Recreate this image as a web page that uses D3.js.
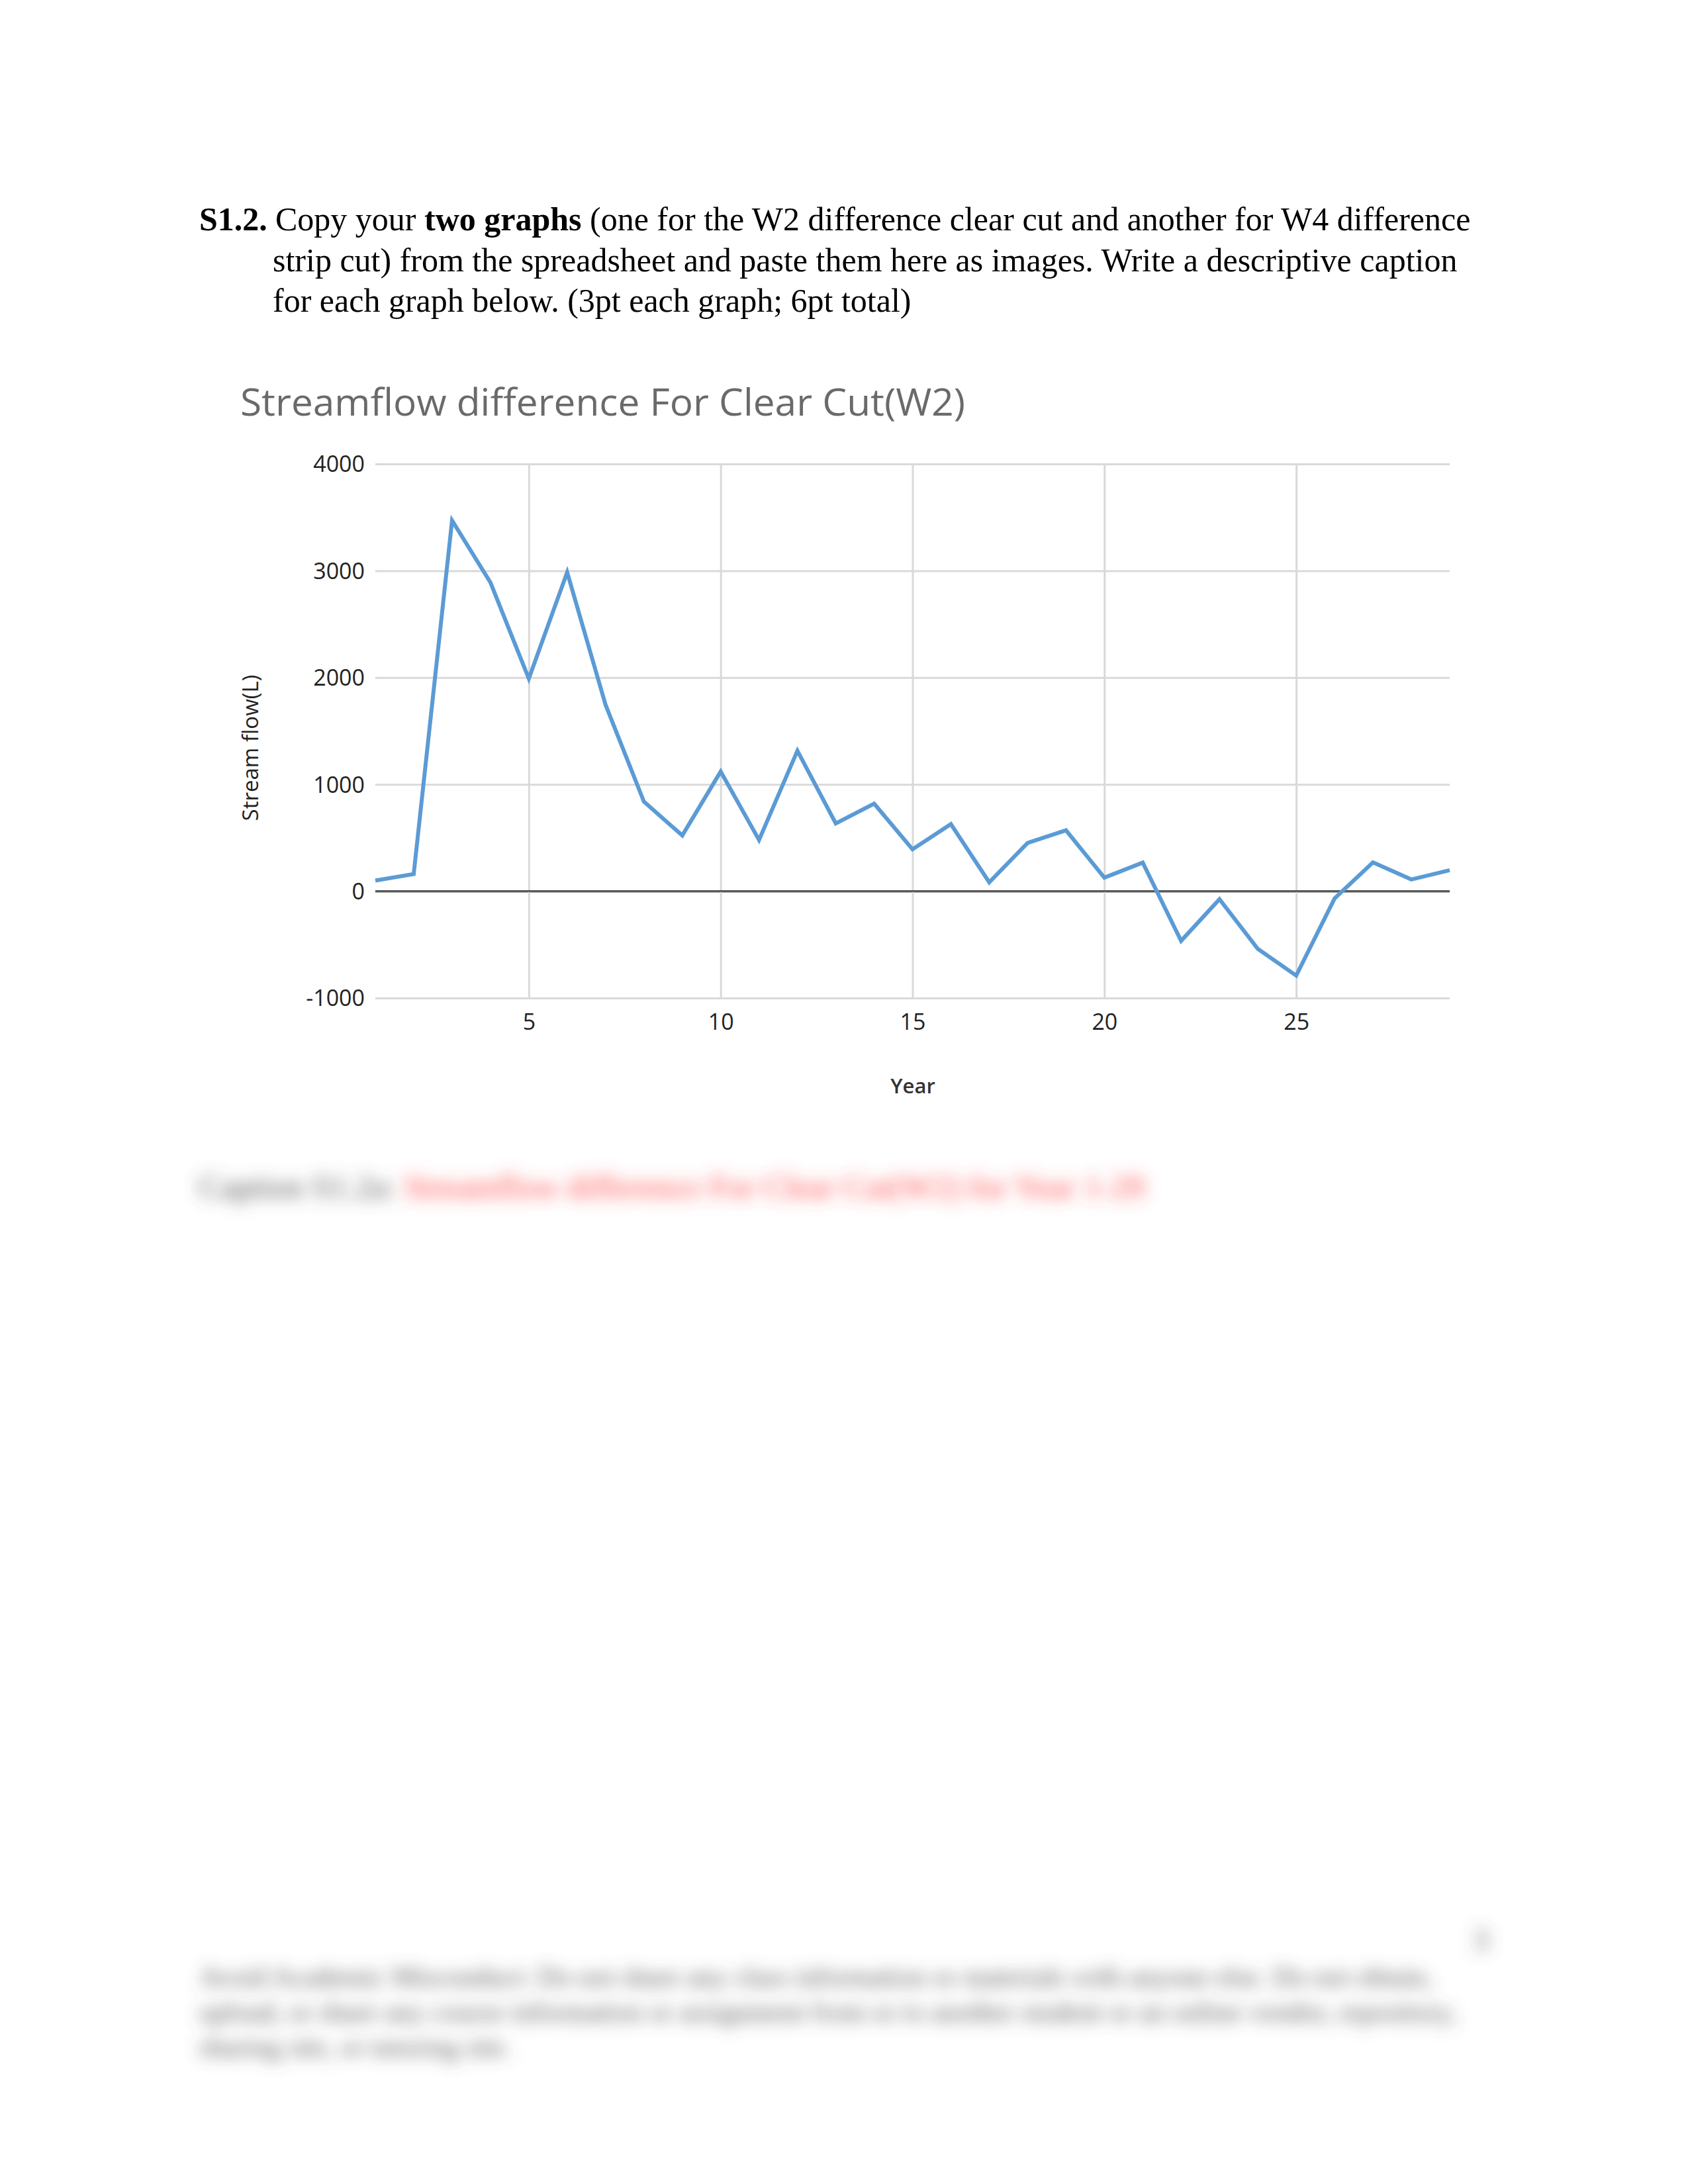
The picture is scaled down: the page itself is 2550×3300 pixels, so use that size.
<!DOCTYPE html>
<html lang="en">
  <head>
    <meta charset="utf-8">
    <title>Streamflow difference</title>
    <script src="https://d3js.org/d3.v7.min.js"></script>
    <style>
      body { margin: 0; background: #fff; }
      svg { display: block; }
    </style>
  </head>
  <body>
    <div id="page"></div>
    <script>

      // chart data: year number and streamflow difference (L)
      const years = d3.range(1, 30);
      const flowDiff = [100, 160, 3470, 2890, 1990, 2985, 1745, 838, 522, 1120,
                        480, 1315, 635, 820, 392, 628, 83, 452, 570, 127,
                        268, -465, -75, -540, -790, -68, 270, 110, 197];
      const yTicks = [-1000, 0, 1000, 2000, 3000, 4000];
      const xTicks = [5, 10, 15, 20, 25];

      const chartTitle = "Streamflow difference For Clear Cut(W2)";
      const yLabel = "Stream flow(L)";
      const xLabel = "Year";

      const data = years.map((yr, i) => ({year: yr, value: flowDiff[i]}));

      // page size (letter at 300dpi)
      const W = 2550, H = 3300;
      // plot box inside the page
      const plot = {left: 567, right: 2190, top: 701, bottom: 1508};

      const svg = d3.select("#page")
        .append("svg")
          .attr("width", W)
          .attr("height", H);

      svg.append("rect").attr("width", W).attr("height", H).attr("fill", "#fff");

      const defs = svg.append("defs");
      defs.append("filter").attr("id", "blur")
          .attr("x", "-10%").attr("y", "-60%").attr("width", "120%").attr("height", "220%")
        .append("feGaussianBlur").attr("stdDeviation", 12);

      // ---- question text ----
      const serif = "'Liberation Serif', 'Times New Roman', serif";
      const q = svg.append("g").attr("font-family", serif).attr("font-size", 50).attr("fill", "#000");

      q.append("text").attr("x", 301).attr("y", 348)
        .attr("font-weight", "bold").text("S1.2.");

      const l1 = q.append("text").attr("x", 416).attr("y", 348);
      l1.append("tspan").text("Copy your ");
      l1.append("tspan").attr("font-weight", "bold").text("two graphs");
      l1.append("tspan").text(" (one for the W2 difference clear cut and another for W4 difference");

      q.append("text").attr("x", 412).attr("y", 410)
        .text("strip cut) from the spreadsheet and paste them here as images. Write a descriptive caption");
      q.append("text").attr("x", 412).attr("y", 471)
        .text("for each graph below. (3pt each graph; 6pt total)");

      // ---- chart ----
      const sans = "'Open Sans', 'Noto Sans', sans-serif";

      const x = d3.scaleLinear().domain([1, 29]).range([plot.left, plot.right]);
      const y = d3.scaleLinear().domain([-1000, 4000]).range([plot.bottom, plot.top]);

      // title
      svg.append("text")
        .attr("x", 363).attr("y", 628)
        .attr("font-family", sans).attr("font-size", 56)
        .attr("fill", "#6a6a6a")
        .attr("textLength", 1095).attr("lengthAdjust", "spacingAndGlyphs")
        .text(chartTitle);

      // horizontal gridlines + y labels
      const yAxis = d3.axisLeft(y).tickValues(yTicks)
        .tickSize(-(plot.right - plot.left)).tickPadding(16)
        .tickFormat(d => String(d));
      const gy = svg.append("g")
        .attr("transform", `translate(${plot.left},0)`)
        .call(yAxis);
      gy.select(".domain").remove();
      gy.selectAll(".tick line")
        .attr("stroke", d => d === 0 ? "#5a5a5a" : "#d9d9d9")
        .attr("stroke-width", 3);
      gy.selectAll(".tick text")
        .attr("font-family", sans).attr("font-size", 34).attr("fill", "#222")
        .attr("font-weight", 500)
        .attr("dy", "0.35em");

      // vertical gridlines + x labels
      const xAxis = d3.axisBottom(x).tickValues(xTicks)
        .tickSize(-(plot.bottom - plot.top)).tickPadding(24)
        .tickFormat(d => String(d));
      const gx = svg.append("g")
        .attr("transform", `translate(0,${plot.bottom})`)
        .call(xAxis);
      gx.select(".domain").remove();
      gx.selectAll(".tick line").attr("stroke", "#d9d9d9").attr("stroke-width", 3);
      gx.selectAll(".tick text")
        .attr("font-family", sans).attr("font-size", 34).attr("fill", "#222")
        .attr("font-weight", 500);

      // zero line again on top of the vertical grid
      svg.append("line")
        .attr("x1", plot.left).attr("x2", plot.right)
        .attr("y1", y(0)).attr("y2", y(0))
        .attr("stroke", "#5a5a5a").attr("stroke-width", 3);

      // the series
      svg.append("path")
        .datum(data)
        .attr("fill", "none")
        .attr("stroke", "#5b9bd5")
        .attr("stroke-width", 6)
        .attr("stroke-linejoin", "miter")
        .attr("d", d3.line().x(d => x(d.year)).y(d => y(d.value)));

      // axis titles
      svg.append("text")
        .attr("transform", "translate(390,1130) rotate(-90)")
        .attr("text-anchor", "middle")
        .attr("font-family", sans).attr("font-size", 33).attr("fill", "#222")
        .attr("font-weight", 500)
        .text(yLabel);

      svg.append("text")
        .attr("x", 1379).attr("y", 1652)
        .attr("text-anchor", "middle")
        .attr("font-family", sans).attr("font-size", 31).attr("font-weight", 600)
        .attr("fill", "#333")
        .text(xLabel);

      // ---- blurred caption and footer ----
      const cap = svg.append("text")
        .attr("x", 301).attr("y", 1810)
        .attr("font-family", serif).attr("font-size", 50)
        .attr("filter", "url(#blur)");
      cap.append("tspan").attr("fill", "#555").text("Caption S1.2a: ");
      cap.append("tspan").attr("fill", "#ff4545")
        .text("Streamflow difference For Clear Cut(W2) for Year 1-29");

      const foot = svg.append("g")
        .attr("font-family", serif).attr("font-size", 42).attr("fill", "#555")
        .attr("filter", "url(#blur)");
      foot.append("text").attr("x", 2237).attr("y", 2947).attr("text-anchor", "middle")
        .attr("font-size", 46).text("3");
      foot.append("text").attr("x", 301).attr("y", 3001)
        .text("Avoid Academic Misconduct: Do not share any class information or materials with anyone else. Do not obtain,");
      foot.append("text").attr("x", 301).attr("y", 3054)
        .text("upload, or share any course information or assignment from or to another student or an online vendor, repository,");
      foot.append("text").attr("x", 301).attr("y", 3107)
        .text("sharing site, or tutoring site.");

    </script>
  </body>
</html>
